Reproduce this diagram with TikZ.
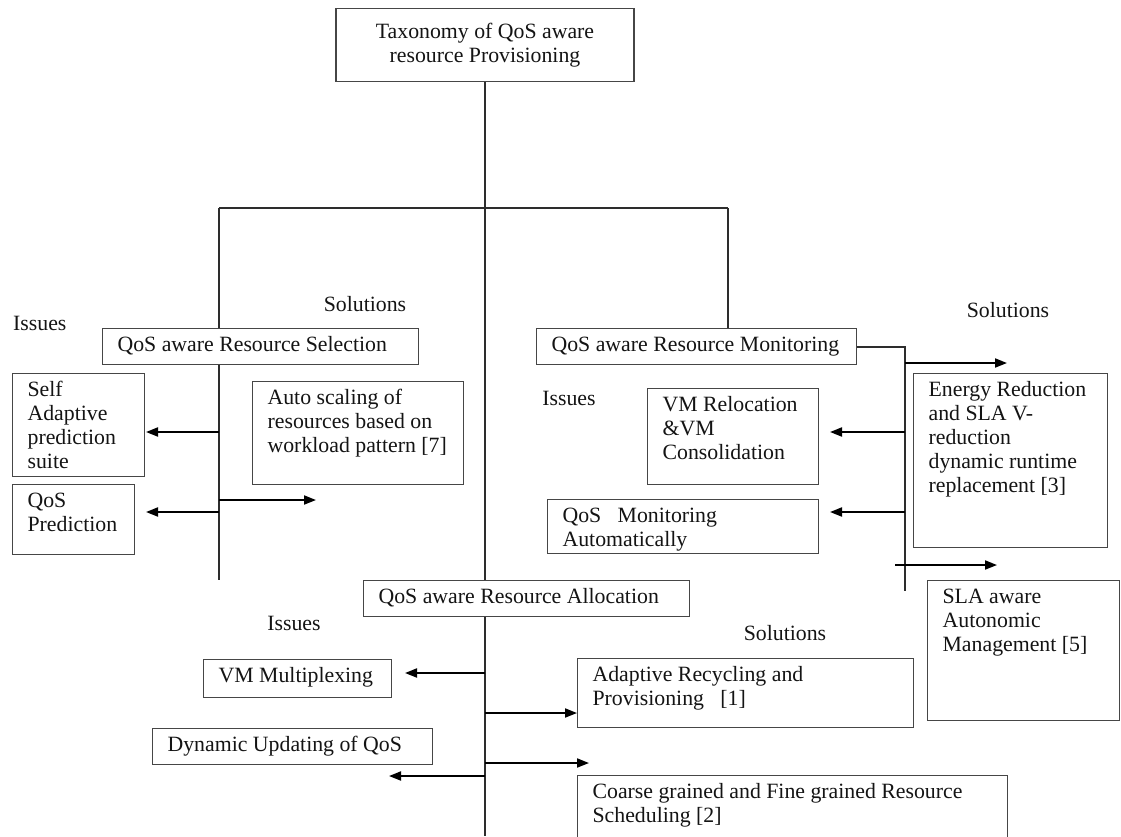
\documentclass[tikz,border=0pt]{standalone}
\usepackage{fontspec}
\setmainfont{Liberation Serif}
\usetikzlibrary{positioning, arrows.meta, backgrounds}
\definecolor{tqInk}{RGB}{20, 20, 20}
\definecolor{tqLine}{RGB}{45, 45, 45}
\definecolor{tqEdge}{RGB}{70, 70, 70}
\newcommand{\boxlines}[3]{\parbox[c][#2][t]{#1}{\begin{tabular}[t]{@{}l@{}}#3\end{tabular}}}
\tikzset{
    base/.style={
        font=\fontsize{21.8}{24}\selectfont,
        text=tqInk
    },
    topic/.style={
        base,
        rectangle,
        draw=tqEdge,
        line width=1.2pt,
        fill=white,
        anchor=north west,
        inner xsep=15pt,
        inner ysep=6pt
    },
    branch/.style={
        draw=tqLine,
        line width=1.4pt
    },
    flow/.style={
        -{Triangle[length=12pt, width=9pt]},
        line width=1.9pt,
        color=black
    },
    label/.style={
        base,
        inner sep=0pt
    }
}

\begin{document}
\begin{tikzpicture}[x=1pt, y=-1pt]
  \useasboundingbox (0,0) rectangle (1121,836);
  \clip (0,0) rectangle (1121,836);

  % Root
  \node[topic, anchor=center, minimum width=298pt, minimum height=73pt, align=center, inner sep=0pt] (root) at (485,45) {Taxonomy of QoS aware\\resource Provisioning};

  % Selection branch
  \node[label, anchor=west] (issuesA) at (13,323) {Issues};
  \node[label] (solA) at (365,304) {Solutions};
  \node[topic] (sel) at (102,328) {\boxlines{286pt}{24pt}{QoS aware Resource Selection}};
  \node[topic] (self) at (12,373) {\boxlines{102pt}{91pt}{Self\\Adaptive\\prediction\\suite}};
  \node[topic] (pred) at (12,484) {\boxlines{92pt}{58pt}{QoS\\Prediction}};
  \node[topic] (auto) at (252,381) {\boxlines{181pt}{91pt}{Auto scaling of\\resources based on\\workload pattern [7]}};

  % Monitoring branch
  \node[label] (solB) at (1008,310) {Solutions};
  \node[label] (issuesB) at (569,398) {Issues};
  \node[topic] (mon) at (536,328) {\boxlines{290pt}{24pt}{QoS aware Resource Monitoring}};
  \node[topic] (reloc) at (647,388) {\boxlines{141pt}{84pt}{VM Relocation\\\&VM\\Consolidation}};
  \node[topic] (monauto) at (547,499) {\boxlines{241pt}{42pt}{QoS\ \ \ Monitoring\\Automatically}};
  \node[topic] (energy) at (913,373) {\boxlines{164pt}{162pt}{Energy Reduction\\and SLA V-\\reduction\\dynamic runtime\\replacement [3]}};
  \node[topic] (sla) at (927,580) {\boxlines{162pt}{128pt}{SLA aware\\Autonomic\\Management [5]}};

  % Allocation branch
  \node[label] (issuesC) at (294,623) {Issues};
  \node[label] (solC) at (785,633) {Solutions};
  \node[topic] (alloc) at (363,580) {\boxlines{296pt}{24pt}{QoS aware Resource Allocation}};
  \node[topic] (mux) at (203,659) {\boxlines{158pt}{26pt}{VM Multiplexing}};
  \node[topic] (dyn) at (152,728) {\boxlines{250pt}{24pt}{Dynamic Updating of QoS}};
  \node[topic] (adapt) at (577,658) {\boxlines{306pt}{57pt}{Adaptive Recycling and\\Provisioning\ \ \ [1]}};
  \node[topic] (coarse) at (577,775) {\boxlines{400pt}{100pt}{Coarse grained and Fine grained Resource\\Scheduling [2]}};

  % Tree lines
  \coordinate (lsplit) at (219,208);
  \coordinate (rsplit) at (728,208);
  \coordinate (lend) at (219,580);
  \coordinate (trunkend) at (485,836);
  \coordinate (rspine) at (905,347);
  \coordinate (rend) at (905,591);
  \begin{scope}[on background layer]
    \draw[branch] (root.south) -- (trunkend);
    \draw[branch] (lsplit) -- (rsplit);
    \draw[branch] (lsplit) -- (lend);
    \draw[branch] (rsplit) -- (mon.north -| rsplit);
    \draw[branch] (mon.east |- rspine) -- (rspine) -- (rend);
  \end{scope}

  % Arrows from the selection line
  \coordinate (toSelf) at (146,432);
  \coordinate (toPred) at (146,512);
  \coordinate (toAuto) at (316,500);
  \draw[flow] (toSelf -| lsplit) -- (toSelf);
  \draw[flow] (toPred -| lsplit) -- (toPred);
  \draw[flow] (toAuto -| lsplit) -- (toAuto);

  % Arrows from the monitoring line
  \coordinate (toEnergy) at (1007,363);
  \coordinate (toReloc) at (830,432);
  \coordinate (toMonauto) at (830,512);
  \coordinate (slaTail) at (895,565);
  \coordinate (toSla) at (997,565);
  \draw[flow] (toEnergy -| rspine) -- (toEnergy);
  \draw[flow] (toReloc -| rspine) -- (toReloc);
  \draw[flow] (toMonauto -| rspine) -- (toMonauto);
  \draw[flow] (slaTail) -- (toSla);

  % Arrows from the allocation line
  \coordinate (toMux) at (405,673);
  \coordinate (toAdapt) at (577,713);
  \coordinate (toCoarse) at (589,763);
  \coordinate (toDyn) at (389,776);
  \draw[flow] (toMux -| trunkend) -- (toMux);
  \draw[flow] (toAdapt -| trunkend) -- (toAdapt);
  \draw[flow] (toCoarse -| trunkend) -- (toCoarse);
  \draw[flow] (toDyn -| trunkend) -- (toDyn);

\end{tikzpicture}
\end{document}
